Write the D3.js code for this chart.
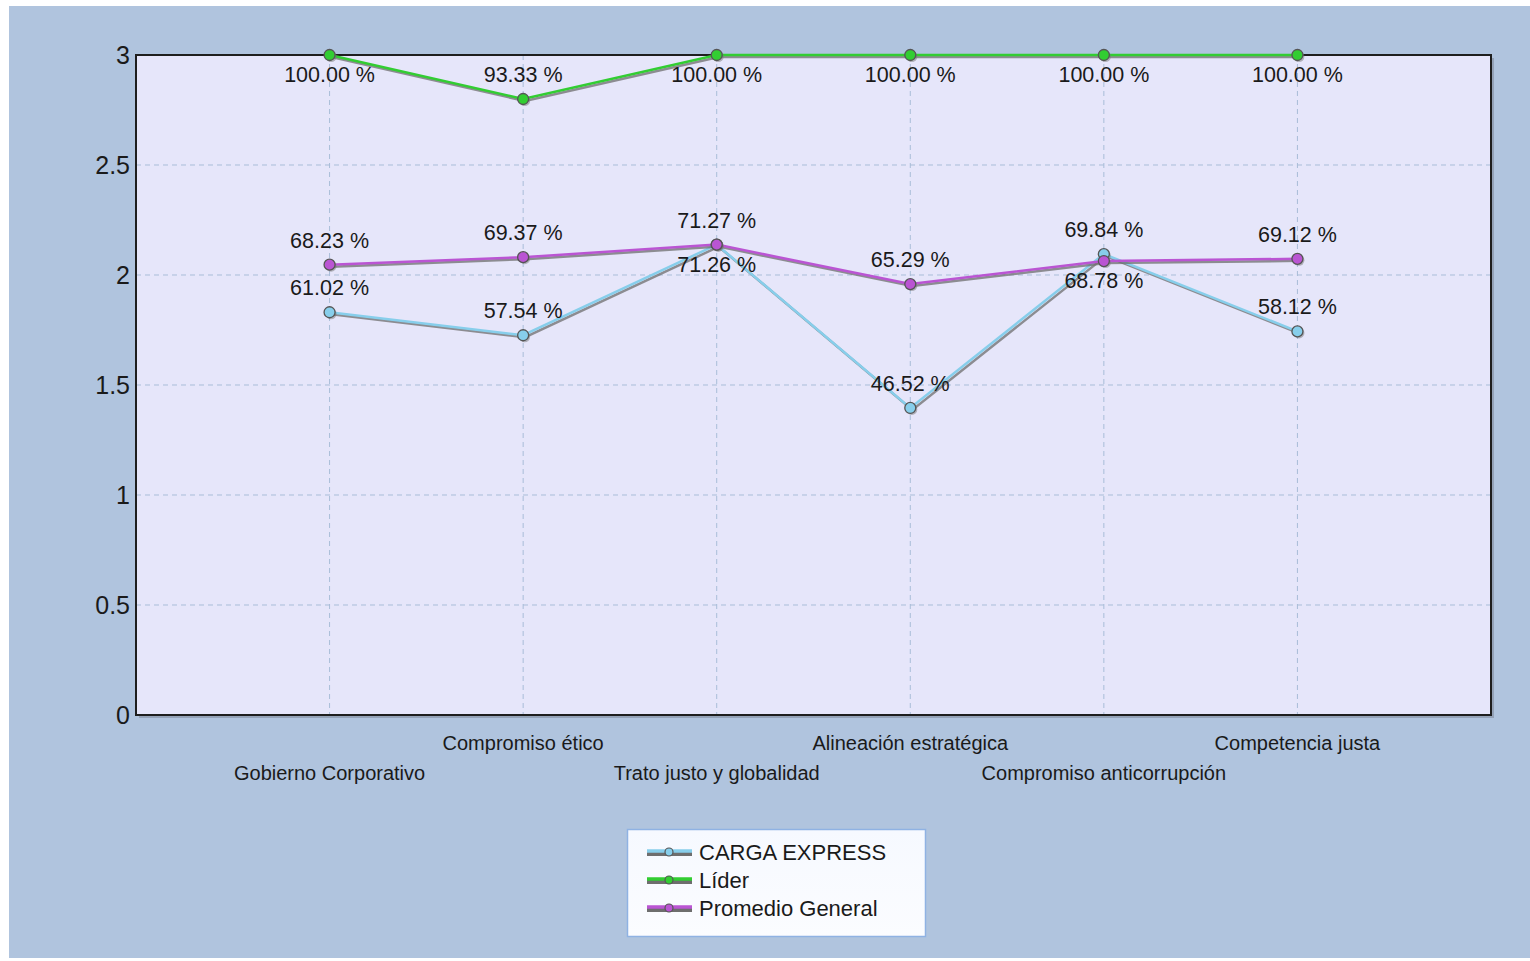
<!DOCTYPE html>
<html>
<head>
<meta charset="utf-8">
<script src="https://cdn.jsdelivr.net/npm/d3@7"></script>
<style>
html,body{margin:0;padding:0;background:#ffffff;}
svg{display:block;font-family:"Liberation Sans",Arial,sans-serif;}
</style>
</head>
<body>
<svg id="chart" width="1530" height="961"></svg>
<script>
// ---- data ----
const categories = ["Gobierno Corporativo","Compromiso ético","Trato justo y globalidad","Alineación estratégica","Compromiso anticorrupción","Competencia justa"];
const cargaExpress = [61.02, 57.54, 71.26, 46.52, 69.84, 58.12];
const lider = [100.00, 93.33, 100.00, 100.00, 100.00, 100.00];
const promedioGeneral = [68.23, 69.37, 71.27, 65.29, 68.78, 69.12];
const seriesNames = ["CARGA EXPRESS","Líder","Promedio General"];
const seriesColors = ["#87CEEB","#32CD32","#BA55D3"];
const yTicks = [0, 0.5, 1, 1.5, 2, 2.5, 3];
const yTickLabels = ["0","0.5","1","1.5","2","2.5","3"];
const maxScore = 3;

const svg = d3.select("#chart");
const W = 1530, H = 961;
const plot = {l:136, t:55, r:1491, b:715};

// background
svg.append("rect").attr("x",9).attr("y",6).attr("width",W-9).attr("height",H-9).attr("fill","#B0C4DE");

const x = d3.scaleLinear().domain([0, categories.length+1]).range([plot.l, plot.r]);
const y = d3.scaleLinear().domain([0, maxScore]).range([plot.b, plot.t]);
const pctToScore = d3.scaleLinear().domain([0,100]).range([0,maxScore]);

const defs = svg.append("defs");
defs.append("clipPath").attr("id","plotclip").append("rect")
  .attr("x",plot.l-8).attr("y",plot.t-8).attr("width",plot.r-plot.l+16).attr("height",plot.b-plot.t+16);

// plot shadow
svg.append("rect").attr("x",plot.l+3).attr("y",plot.t+3).attr("width",plot.r-plot.l).attr("height",plot.b-plot.t)
  .attr("fill","#7d8798").attr("opacity",0.55);
// plot background
svg.append("rect").attr("x",plot.l).attr("y",plot.t).attr("width",plot.r-plot.l).attr("height",plot.b-plot.t)
  .attr("fill","#E6E6FA");

// gridlines
const grid = svg.append("g");
grid.selectAll("line.h").data(yTicks.filter(d=>d>0 && d<maxScore)).join("line")
  .attr("x1",plot.l).attr("x2",plot.r).attr("y1",d=>y(d)).attr("y2",d=>y(d))
  .attr("stroke","#A9BDD8").attr("stroke-width",1).attr("stroke-dasharray","5,4");
grid.selectAll("line.v").data(categories).join("line")
  .attr("x1",(d,i)=>x(i+1)).attr("x2",(d,i)=>x(i+1)).attr("y1",plot.t).attr("y2",plot.b)
  .attr("stroke","#A9BDD8").attr("stroke-width",1).attr("stroke-dasharray","5,4");

// plot border
svg.append("rect").attr("x",plot.l).attr("y",plot.t).attr("width",plot.r-plot.l).attr("height",plot.b-plot.t)
  .attr("fill","none").attr("stroke","#1e1e1e").attr("stroke-width",2);

// y axis labels
const yAxis = d3.axisLeft(y).tickValues(yTicks).tickFormat((d,i)=>yTickLabels[i]).tickSize(0).tickPadding(6);
const ya = svg.append("g").attr("transform",`translate(${plot.l},0)`).call(yAxis);
ya.select(".domain").remove();
ya.selectAll("text").attr("font-size",25).attr("fill","#1a1a1a").attr("font-family","Liberation Sans, Arial, sans-serif");

// x axis labels (staggered)
const xa = svg.append("g");
xa.selectAll("text").data(categories).join("text")
  .attr("x",(d,i)=>x(i+1))
  .attr("y",(d,i)=> i%2===0 ? 780 : 750)
  .attr("text-anchor","middle").attr("font-size",20).attr("fill","#1a1a1a")
  .text(d=>d);

// series
const seriesData = [cargaExpress, lider, promedioGeneral].map((arr,si)=>({
  name: seriesNames[si], color: seriesColors[si],
  pts: arr.map((p,i)=>({i, pct:p, v:pctToScore(p)}))
}));

const line = d3.line().x(d=>x(d.i+1)).y(d=>y(d.v));
const lines = svg.append("g").attr("clip-path","url(#plotclip)");
seriesData.forEach(s=>{
  lines.append("path").datum(s.pts).attr("d",line).attr("fill","none")
    .attr("stroke","#6e6e6e").attr("stroke-opacity",0.75).attr("stroke-width",2.5)
    .attr("transform","translate(2,2)");
  lines.append("path").datum(s.pts).attr("d",line).attr("fill","none")
    .attr("stroke",s.color).attr("stroke-width",2.5);
});
seriesData.forEach(s=>{
  lines.selectAll(null).data(s.pts).join("circle")
    .attr("cx",d=>x(d.i+1)+1.5).attr("cy",d=>y(d.v)+1.5).attr("r",5.5)
    .attr("fill","#777").attr("opacity",0.5);
  lines.selectAll(null).data(s.pts).join("circle")
    .attr("cx",d=>x(d.i+1)).attr("cy",d=>y(d.v)).attr("r",5.5)
    .attr("fill",s.color).attr("stroke","#555").attr("stroke-width",1.3);
});

// labels with simple smart placement
const labelH = 19, fs = 21.5;
const labels = svg.append("g");
categories.forEach((c,i)=>{
  const items = seriesData.map(s=>s.pts[i]).sort((a,b)=>b.v-a.v);
  const placed = [];
  items.forEach(p=>{
    const py = y(p.v);
    let base = py - 17;          // above
    let top = base - labelH;
    const collides = (t)=> placed.some(q=> !(t+labelH < q || t > q+labelH));
    if (top < plot.t || collides(top)) { base = py + 27; top = base - labelH; }
    placed.push(top);
    labels.append("text").attr("x",x(i+1)).attr("y",base)
      .attr("text-anchor","middle").attr("font-size",fs).attr("fill","#1a1a1a")
      .text(p.pct.toFixed(2)+" %");
  });
});

// legend
const lg = svg.append("g");
const lgGrad = defs.append("linearGradient").attr("id","lggrad").attr("x1",0).attr("y1",0).attr("x2",0).attr("y2",1);
lgGrad.append("stop").attr("offset","0%").attr("stop-color","#F6F9FF");
lgGrad.append("stop").attr("offset","100%").attr("stop-color","#FBFCFF");
lg.append("rect").attr("x",627.5).attr("y",829.5).attr("width",298).attr("height",107)
  .attr("fill","url(#lggrad)").attr("stroke","#8FB2E3").attr("stroke-width",1.5);
seriesData.forEach((s,k)=>{
  const cy = 852 + k*28;
  lg.append("line").attr("x1",647).attr("x2",692).attr("y1",cy+2).attr("y2",cy+2)
    .attr("stroke","#6e6e6e").attr("stroke-width",4);
  lg.append("line").attr("x1",647).attr("x2",692).attr("y1",cy-1).attr("y2",cy-1)
    .attr("stroke",s.color).attr("stroke-width",3.5);
  lg.append("circle").attr("cx",669).attr("cy",cy).attr("r",4)
    .attr("fill",s.color).attr("stroke","#555").attr("stroke-width",1.2);
  lg.append("text").attr("x",699).attr("y",cy+8).attr("font-size",22).attr("fill","#1a1a1a").text(s.name);
});
</script>
</body>
</html>
